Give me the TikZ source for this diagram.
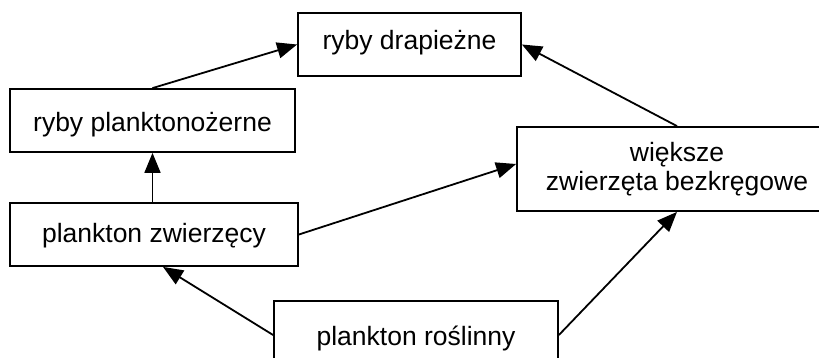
\documentclass[tikz,border=0pt]{standalone}
\usepackage{fontspec}
\setmainfont{Liberation Sans}
\usetikzlibrary{arrows.meta}
\begin{document}
\begin{tikzpicture}[x=1pt,y=-1pt,
                box/.style={shape=rectangle,draw=black,line width=1.8pt,inner sep=0pt,align=center,
                    font=\fontsize{26.5}{29}\selectfont},
                >={Triangle[length=20pt,width=16pt]}]
                \useasboundingbox (0,0) rectangle (819,358);

                \node[box,minimum width=223pt,minimum height=63pt,text height=17pt,text depth=6pt] (drap) at (409.5,44.5) {ryby drapieżne};
                \node[box,minimum width=285pt,minimum height=63pt,text height=29pt,text depth=6pt] (plank) at (152.5,120.5) {ryby planktonożerne};
                \node[box,minimum width=288pt,minimum height=63pt,text height=23pt,text depth=6pt] (zw) at (154,234.5) {plankton zwierzęcy};
                \node[box,minimum width=284pt,minimum height=62pt,text height=32pt,text depth=6pt] (ros) at (416,332) {plankton roślinny};
                \node[box,minimum width=320pt,minimum height=84pt] (bezkr) at (677,169) {większe\\zwierzęta bezkręgowe};

                \path [->,line width=1.8pt] (plank.north) edge (drap.west);
                \path [->,line width=1.8pt] (bezkr.north) edge (drap.east);
                \path [->,line width=1.8pt] (zw.north -| plank.south) edge (plank.south);
                \path [->,line width=1.8pt] (zw.east) edge ([yshift=5pt]bezkr.west);
                \path [->,line width=1.8pt] ([yshift=-3pt]ros.west) edge ([xshift=9pt]zw.south);
                \path [->,line width=1.8pt] ([yshift=-3pt]ros.east) edge (bezkr.south);
            \end{tikzpicture}
\end{document}
